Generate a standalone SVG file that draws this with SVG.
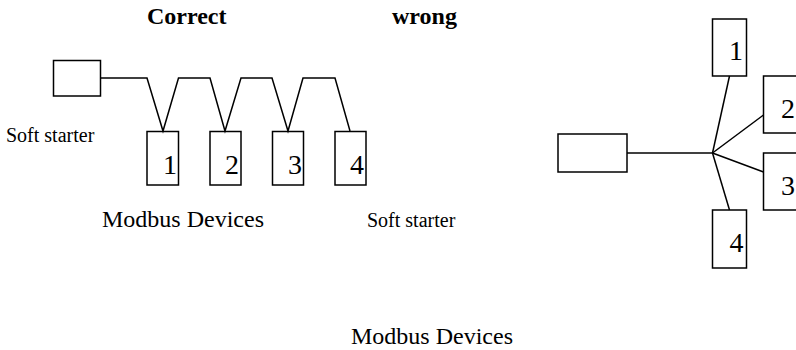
<svg xmlns="http://www.w3.org/2000/svg" width="796" height="350" viewBox="0 0 796 350">
<style>
rect,polyline,line{fill:none;stroke:#000;stroke-width:1.5}
text{font-family:"Liberation Serif","Times New Roman",serif;fill:#000}
.n{font-size:28px}.s{font-size:20px}.m{font-size:24px}.b{font-size:24px;font-weight:bold}
</style>
<rect width="796" height="350" style="fill:#fff;stroke:none"/>
<g id="connectors">
<polyline points="101,78 147,78 163,131 178.5,78 210,78 225,131 241,78 272,78 288,131 303,78 335,78 350,131"/>
<line x1="627" y1="153" x2="712.5" y2="153"/>
<line x1="712.5" y1="153" x2="729.5" y2="76"/>
<line x1="712.5" y1="153" x2="763.5" y2="115"/>
<line x1="712.5" y1="153" x2="763.5" y2="172"/>
<line x1="712.5" y1="153" x2="729.5" y2="210"/>
</g>
<g id="left-starter"><rect x="53.5" y="60.5" width="47" height="35.5"/></g>
<g id="left-1"><rect x="147" y="131.5" width="31.5" height="53.5"/><text class="n" x="163" y="173.5">1</text></g>
<g id="left-2"><rect x="210" y="131.5" width="31" height="53.5"/><text class="n" x="225" y="173.5">2</text></g>
<g id="left-3"><rect x="272.5" y="131.5" width="31" height="53.5"/><text class="n" x="288" y="173.5">3</text></g>
<g id="left-4"><rect x="335" y="131.5" width="31" height="53.5"/><text class="n" x="350" y="173.5">4</text></g>
<g id="right-starter"><rect x="558" y="134" width="69" height="38"/></g>
<g id="right-1"><rect x="712.5" y="19" width="34" height="57"/><text class="n" x="729" y="60">1</text></g>
<g id="right-2"><rect x="763.5" y="76" width="40" height="57"/><text class="n" x="781" y="118">2</text></g>
<g id="right-3"><rect x="763.5" y="153" width="40" height="57"/><text class="n" x="781" y="195">3</text></g>
<g id="right-4"><rect x="712.5" y="210" width="34" height="58"/><text class="n" x="729.5" y="252">4</text></g>
<g id="labels">
<text class="b" x="147" y="24">Correct</text>
<text class="b" x="392" y="24">wrong</text>
<text class="s" x="6" y="142">Soft starter</text>
<text class="m" x="102" y="227">Modbus Devices</text>
<text class="s" x="367" y="227">Soft starter</text>
<text class="m" x="351" y="344">Modbus Devices</text>
</g>
</svg>
